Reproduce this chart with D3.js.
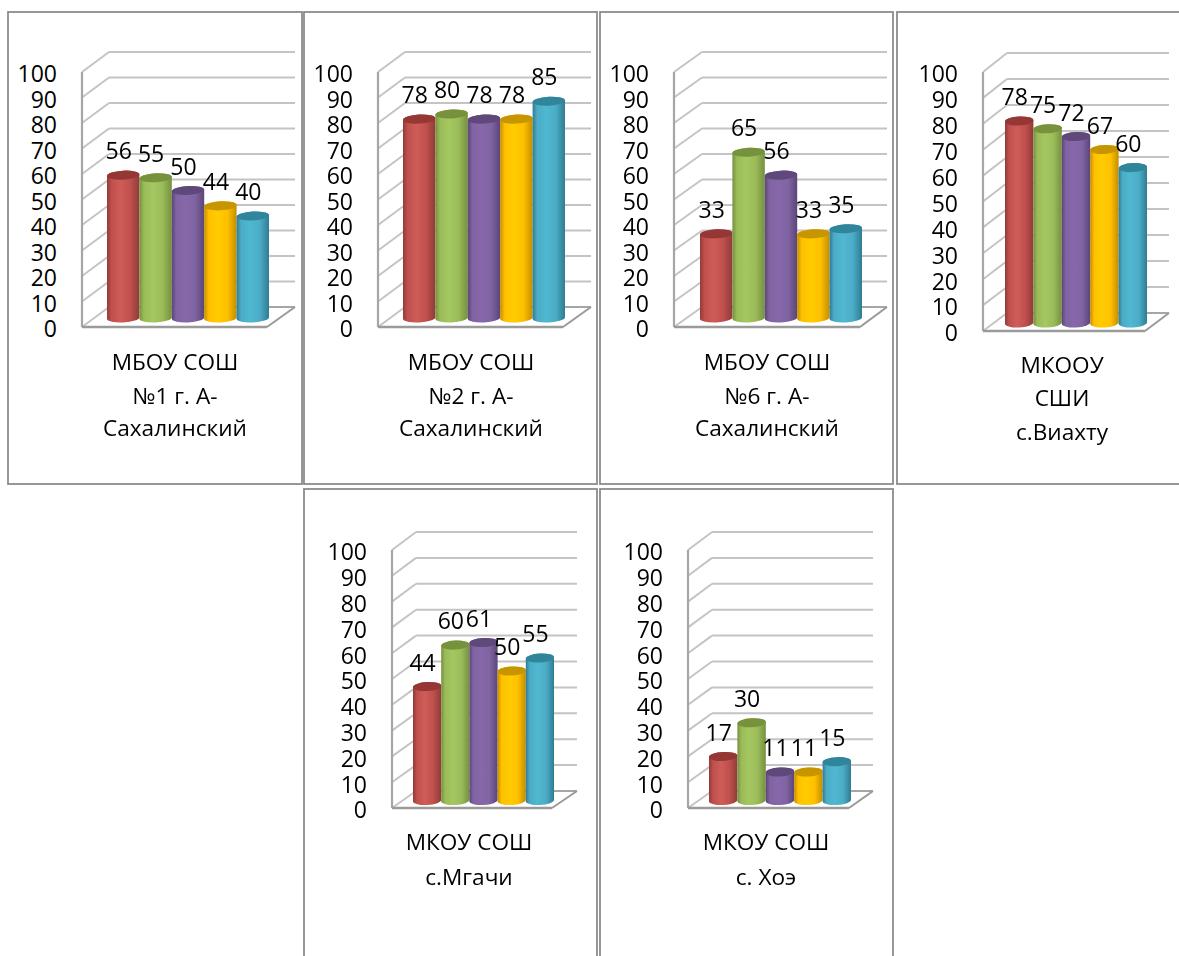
<!DOCTYPE html>
<html><head><meta charset="utf-8">
<script src="https://cdn.jsdelivr.net/npm/d3@7"></script>
<style>
html,body{margin:0;padding:0;background:#fff;overflow:hidden}
svg{display:block;filter:blur(0.45px)}
text{font-family:"Open Sans",Lato,sans-serif;fill:#000}
</style></head><body>
<svg id="c" width="1179" height="956"></svg>
<script>
const schools = [
  ["МБОУ СОШ","№1 г. А-","Сахалинский"],
  ["МБОУ СОШ","№2 г. А-","Сахалинский"],
  ["МБОУ СОШ","№6 г. А-","Сахалинский"],
  ["МКООУ","СШИ","с.Виахту"],
  ["МКОУ СОШ","с.Мгачи"],
  ["МКОУ СОШ","с. Хоэ"]
];
const seriesA = [56,78,33,78,44,17];
const seriesB = [55,80,65,75,60,30];
const seriesC = [50,78,56,72,61,11];
const seriesD = [44,78,33,67,50,11];
const seriesE = [40,85,35,60,55,15];
const yTicks = [0,10,20,30,40,50,60,70,80,90,100];

const seriesColors = [
  {edge:"#8f3b39",mid:"#c0504d",light:"#cf5c58",top:"#953735"},
  {edge:"#75903f",mid:"#9bbb59",light:"#a4c861",top:"#76923c"},
  {edge:"#5b4578",mid:"#8064a2",light:"#8767ab",top:"#5f497a"},
  {edge:"#c28e00",mid:"#ffc000",light:"#ffcc00",top:"#c79500"},
  {edge:"#2f7c93",mid:"#4bacc6",light:"#50b8d2",top:"#31859b"}
];

// panel frames: border box, wall geometry, value-baseline, text placement
const frames = [
 {box:[8,12,294,472],   fl:82,  fr:267, bl:109, br:295, ft:72, fb:327, bt:52, bb:307, b0:107, b1:269, y0:318, k:255, lx:175, ly:[362,396,428], tickDy:2.5},
 {box:[304,12,293,472], fl:378, fr:563, bl:405, br:591, ft:72, fb:327, bt:52, bb:307, b0:403, b1:565, y0:318, k:255, lx:471, ly:[362,396,428], tickDy:2.5},
 {box:[600,12,293,472], fl:674, fr:860, bl:702, br:887, ft:72, fb:327, bt:52, bb:307, b0:700, b1:862, y0:318, k:255, lx:767, ly:[362,396,428], tickDy:2.5},
 {box:[897,12,320,472], fl:983, fr:1145,bl:1007,br:1169,ft:72, fb:331, bt:53, bb:313, b0:1005,b1:1147,y0:323, k:259, lx:1062,ly:[365,398,432], tickDy:2.5},
 {box:[304,489,293,520],fl:392, fr:552, bl:416, br:577, ft:550,fb:808, bt:532,bb:791, b0:413, b1:554, y0:800.5,k:259, lx:469, ly:[842,877], tickDy:2.5},
 {box:[600,489,293,520],fl:688, fr:849, bl:712, br:873, ft:550,fb:808, bt:532,bb:791, b0:709, b1:851, y0:800.5,k:259, lx:766, ly:[842,877], tickDy:2.5}
];

const svg = d3.select("#c");
const defs = svg.append("defs");
seriesColors.forEach((c,i)=>{
  const g = defs.append("linearGradient").attr("id","cyl"+i).attr("x1",0).attr("x2",1).attr("y1",0).attr("y2",0);
  [[0,c.edge],[.14,c.mid],[.42,c.light],[.72,c.mid],[1,c.edge]].forEach(s=>g.append("stop").attr("offset",s[0]).attr("stop-color",s[1]));
});

const GRID="#c4c4c4", AXIS="#a6a6a6";
const allSeries=[seriesA,seriesB,seriesC,seriesD,seriesE];

frames.forEach((f,p)=>{
  const g = svg.append("g");
  g.append("rect").attr("x",f.box[0]).attr("y",f.box[1]).attr("width",f.box[2]).attr("height",f.box[3])
    .attr("fill","#fff").attr("stroke","#8c8c8c").attr("stroke-width",1.8);

  const front = d3.scaleLinear().domain([0,100]).range([f.fb,f.ft]);
  const back  = d3.scaleLinear().domain([0,100]).range([f.bb,f.bt]);
  const y = d3.scaleLinear().domain([0,100]).range([f.y0,f.y0-f.k]);
  const x = d3.scaleBand().domain(d3.range(5)).range([f.b0,f.b1]).padding(0);

  // walls
  g.selectAll(".diag").data(yTicks).join("line")
    .attr("x1",f.fl).attr("y1",d=>front(d)).attr("x2",f.bl).attr("y2",d=>back(d))
    .attr("stroke",GRID).attr("stroke-width",2);
  g.selectAll(".back").data(yTicks).join("line")
    .attr("x1",f.bl).attr("y1",d=>back(d)).attr("x2",f.br).attr("y2",d=>back(d))
    .attr("stroke",d=>d===0?AXIS:GRID).attr("stroke-width",2);
  // floor front edges
  g.append("line").attr("x1",f.fl).attr("y1",f.ft).attr("x2",f.fl).attr("y2",f.fb).attr("stroke",AXIS).attr("stroke-width",2.2);
  g.append("line").attr("x1",f.fl).attr("y1",f.fb).attr("x2",f.fr).attr("y2",f.fb).attr("stroke","#9a9a9a").attr("stroke-width",2.6);
  g.append("line").attr("x1",f.fr).attr("y1",f.fb).attr("x2",f.br).attr("y2",f.bb).attr("stroke","#9a9a9a").attr("stroke-width",2);

  // value axis labels
  const axis = d3.axisLeft(front).tickValues(yTicks).tickSize(0).tickPadding(0).tickFormat(d3.format("d"));
  const ax = g.append("g").attr("transform",`translate(${f.fl-25},${f.tickDy})`).call(axis);
  ax.select(".domain").remove();
  ax.selectAll("text").attr("font-size",23).style("font-family",'"Open Sans",Lato,sans-serif').attr("fill","#000");

  // cylinders
  const vals = allSeries.map(s=>s[p]);
  const rx = x.bandwidth()/2, ry=4.5, tilt=3, dyEnd = rx*Math.sin(tilt*Math.PI/180);
  vals.forEach((v,i)=>{
    const xl=x(i), xr=x(i)+x.bandwidth(), yt=y(v), yb=y(0);
    g.append("path")
      .attr("d",`M${xl},${yt+dyEnd}L${xl},${yb+dyEnd}A${rx},${ry} ${-tilt} 0 0 ${xr},${yb-dyEnd}L${xr},${yt-dyEnd}A${rx},${ry} ${-tilt} 0 0 ${xl},${yt+dyEnd}Z`)
      .attr("fill",`url(#cyl${i})`);
    g.append("ellipse")
      .attr("cx",(xl+xr)/2).attr("cy",yt).attr("rx",rx).attr("ry",ry)
      .attr("transform",`rotate(${-tilt} ${(xl+xr)/2} ${yt})`)
      .attr("fill",seriesColors[i].top);
  });
  // data labels
  vals.forEach((v,i)=>{
    g.append("text").attr("x",x(i)+x.bandwidth()/2-4.5).attr("y",y(v)-24).attr("dy",".35em")
      .attr("text-anchor","middle").attr("font-size",23).text(v);
  });
  // category labels
  schools[p].forEach((t,i)=>{
    g.append("text").attr("x",f.lx).attr("y",f.ly[i]).attr("dy",".35em")
      .attr("text-anchor","middle").attr("font-size",22.6).text(t);
  });
});
</script></body></html>
